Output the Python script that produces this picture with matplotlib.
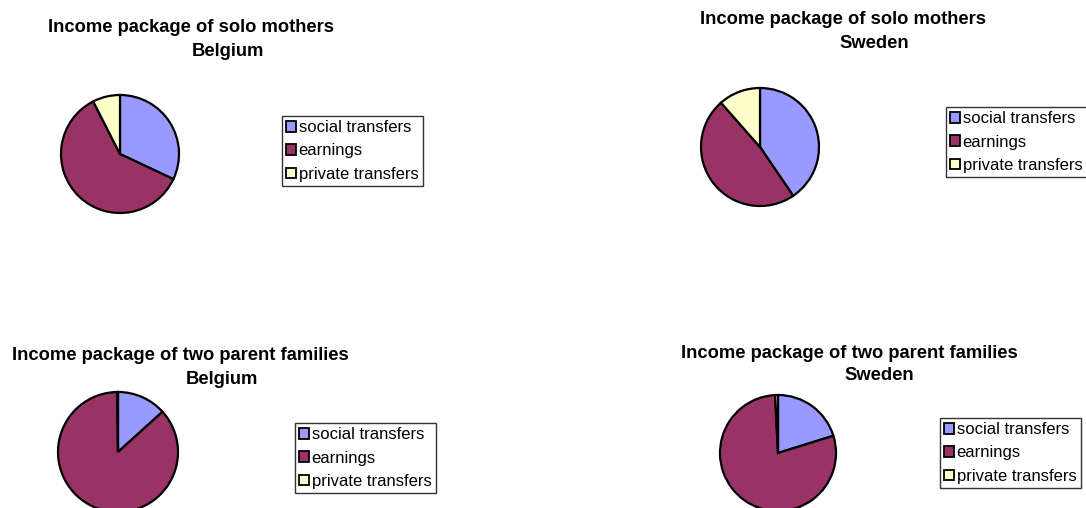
import matplotlib.pyplot as plt
from matplotlib.patches import Patch

plt.rcParams['font.family'] = ['Liberation Sans', 'DejaVu Sans']

labels = ['social transfers', 'earnings', 'private transfers']
colors = ['#9999FF', '#993366', '#FFFFCC']

belgium_solo = [32.0, 60.5, 7.5]
sweden_solo = [40.5, 48.0, 11.5]
belgium_two = [13.3, 86.5, 0.2]
sweden_two = [20.2, 79.0, 0.8]

title_solo = 'Income package of solo mothers'
title_two = 'Income package of two parent families'

W, H = 1086, 508
fig = plt.figure(figsize=(W / 100, H / 100), dpi=100)


def fx(x):
    return x / W


def fy(y):
    return 1 - y / H


# (values, country, title, pie centre, radius, title line centres, legend top-left)
panels = [
    (belgium_solo, 'Belgium', title_solo, (120, 154), 59, (191, 28), (228, 51), (282, 116)),
    (sweden_solo, 'Sweden', title_solo, (760, 147), 59, (843, 20), (874, 43), (946, 107)),
    (belgium_two, 'Belgium', title_two, (118, 452), 60, (180, 356), (222, 379), (295, 423)),
    (sweden_two, 'Sweden', title_two, (778, 453), 58, (849, 353), (879, 376), (940, 418)),
]

handles = [Patch(facecolor=c, edgecolor='black', linewidth=1.3) for c in colors]

for vals, country, title, (cx, cy), r, t1, t2, (lx, ly) in panels:
    ax = fig.add_axes([fx(cx - r), fy(cy + r), 2 * r / W, 2 * r / H])
    wedges, _ = ax.pie(vals, colors=colors, startangle=90, counterclock=False,
                       wedgeprops=dict(edgecolor='black', linewidth=1.6))
    for w in wedges:
        w.set_clip_on(False)
    ax.set_xlim(-1, 1)
    ax.set_ylim(-1, 1)
    ax.set_aspect('auto')
    ax.axis('off')

    fig.text(fx(t1[0]), fy(t1[1]), title, ha='center', va='center',
             fontsize=13.2, fontweight='bold')
    fig.text(fx(t2[0]), fy(t2[1]), country, ha='center', va='center',
             fontsize=13.2, fontweight='bold')

    leg = fig.legend(handles, labels, loc='upper left',
                     bbox_to_anchor=(fx(lx), fy(ly)), bbox_transform=fig.transFigure,
                     fontsize=12, frameon=True, fancybox=False, shadow=False,
                     handlelength=0.6, handleheight=0.6, handletextpad=0.15,
                     labelspacing=0.5, borderpad=0.25, borderaxespad=0)
    leg.get_frame().set_edgecolor('black')
    leg.get_frame().set_linewidth(1.0)

fig.savefig('out.png', dpi=100)
